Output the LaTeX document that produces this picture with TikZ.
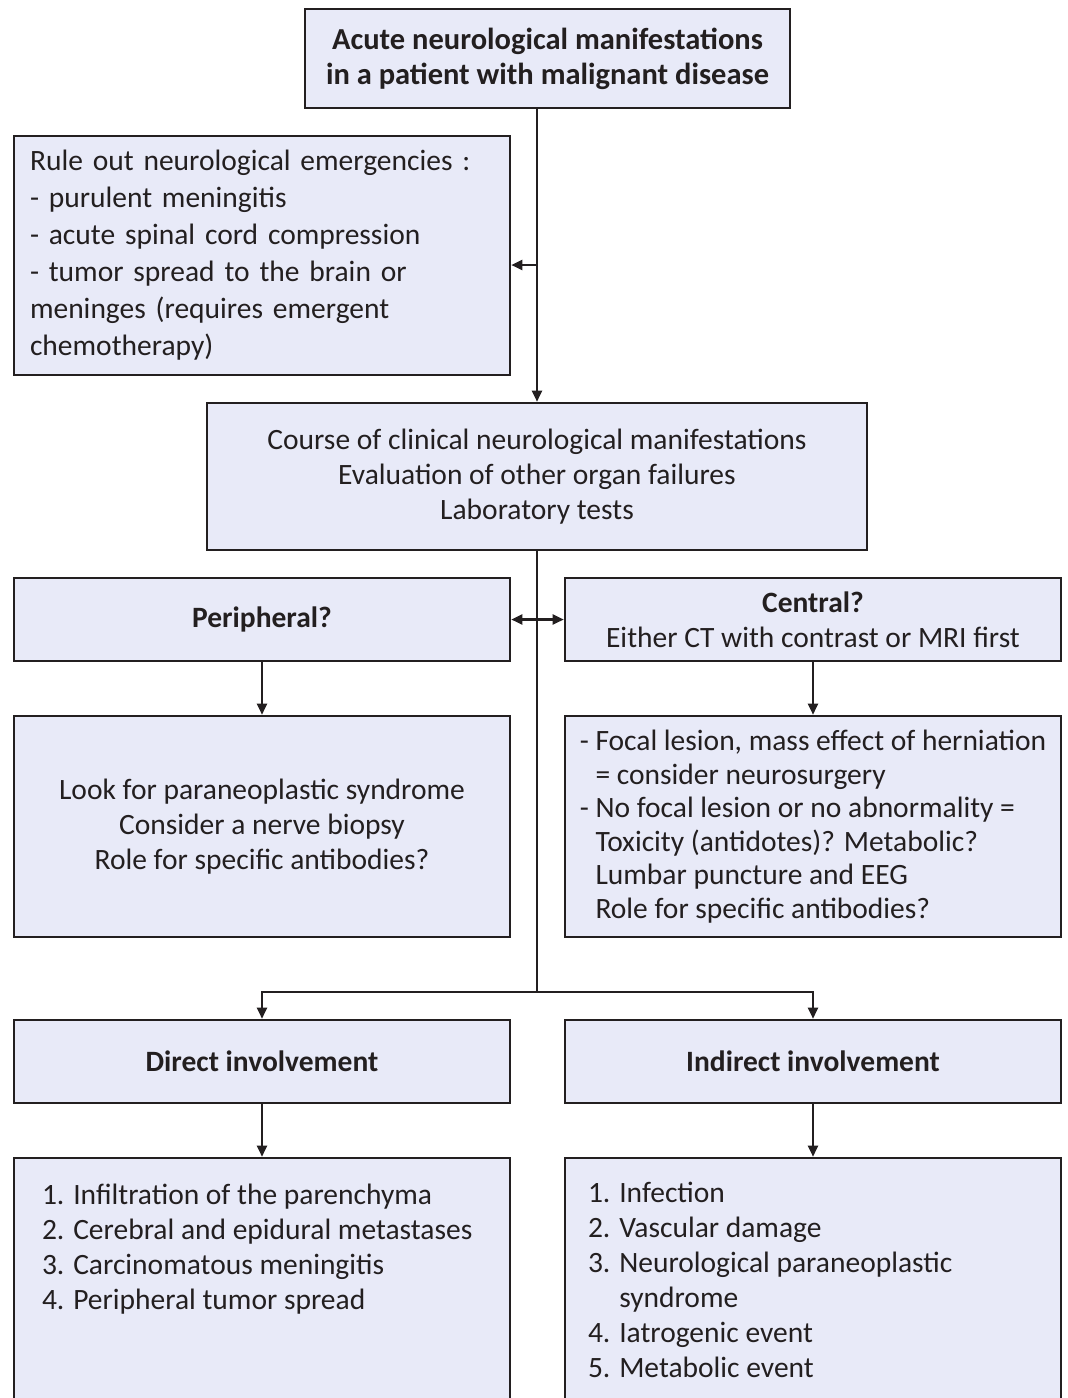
\documentclass[tikz,border=0pt]{standalone}
\usepackage{fontspec}
\setmainfont{Carlito}
\usetikzlibrary{arrows.meta}
\definecolor{boxfill}{RGB}{232,234,248}
\definecolor{ink}{RGB}{35,31,32}
\begin{document}
\begin{tikzpicture}[x=1pt,y=-1pt,
    box/.style={draw=ink,line width=2.6pt,fill=boxfill,inner sep=0pt,text=ink,
        minimum width=496pt,font=\fontsize{29.5}{35}\selectfont,align=center},
    headbox/.style={box,minimum height=83pt,font=\fontsize{29.5}{35}\selectfont\bfseries},
    conn/.style={line width=2.2pt,draw=ink},
    arr/.style={conn,-{Triangle[length=11pt,width=10pt]}},
    dblarr/.style={conn,{Triangle[length=11pt,width=10pt]}-{Triangle[length=11pt,width=10pt]}}]
    \useasboundingbox (0,0) rectangle (1068,1398);
    \clip (0,0) rectangle (1068,1398);
    %first rows
    \node[box,minimum width=485pt,minimum height=99pt,
        font=\fontsize{30.5}{35}\selectfont\bfseries] (top) at (547.5,58.5)
        {Acute neurological manifestations\\in a patient with malignant disease};
    \node[box,minimum height=239pt,text width=464pt,align=left,
        font=\fontsize{29.5}{37}\selectfont] (ruleout) at (262,255.5)
        {Rule out neurological emergencies :\\
        - purulent meningitis\\
        - acute spinal cord compression\\
        - tumor spread to the brain or\\
        meninges (requires emergent\\
        chemotherapy)};
    \node[box,minimum width=660pt,minimum height=147pt] (course) at (537,476.5)
        {Course of clinical neurological manifestations\\
        Evaluation of other organ failures\\
        Laboratory tests};
    %peripheral / central
    \node[headbox] (periph) at (262,619.5) {Peripheral?};
    \node[box,minimum height=83pt] (central) at (813,619.5)
        {\textbf{Central?}\\Either CT with contrast or MRI first};
    \node[box,minimum height=221pt] (lookfor) at (262,826.5)
        {Look for paraneoplastic syndrome\\
        Consider a nerve biopsy\\
        Role for specific antibodies?};
    \node[box,minimum height=221pt,align=left,font=\fontsize{29.5}{33.5}\selectfont] (focal) at (813,826.5)
        {- Focal lesion, mass effect of herniation\\
        \phantom{- }= consider neurosurgery\\
        - No focal lesion or no abnormality =\\
        \phantom{- }Toxicity (antidotes)? Metabolic?\\
        \phantom{- }Lumbar puncture and EEG\\
        \phantom{- }Role for specific antibodies?};
    %direct / indirect
    \node[headbox] (direct) at (262,1061.5) {Direct involvement};
    \node[headbox] (indirect) at (813,1061.5) {Indirect involvement};
    \node[box] (directlist) at (262,1298)
        {\parbox[c][280pt][t]{440pt}{\raggedright\vspace*{26pt}%
        1. Infiltration of the parenchyma\\
        2. Cerebral and epidural metastases\\
        3. Carcinomatous meningitis\\
        4. Peripheral tumor spread}};
    \node[box] (indirectlist) at (813,1298)
        {\parbox[c][280pt][t]{450pt}{\raggedright\vspace*{24pt}%
        1. Infection\\
        2. Vascular damage\\
        3. Neurological paraneoplastic\\
        \phantom{3. }syndrome\\
        4. Iatrogenic event\\
        5. Metabolic event}};
    %connectors
    \coordinate (branch) at (537,265);
    \coordinate (split) at (537,992);
    \draw[arr] (top.south -| course.north) -- (course.north);
    \draw[arr] (branch) -- (branch -| ruleout.east);
    \draw[conn] (course.south) -- (split);
    \draw[dblarr] (periph.east) -- (central.west);
    \draw[arr] (periph) -- (lookfor);
    \draw[arr] (central) -- (focal);
    \draw[arr] (split) -| (direct.north);
    \draw[arr] (split) -| (indirect.north);
    \draw[arr] (direct) -- (directlist);
    \draw[arr] (indirect) -- (indirectlist);
\end{tikzpicture}
\end{document}
